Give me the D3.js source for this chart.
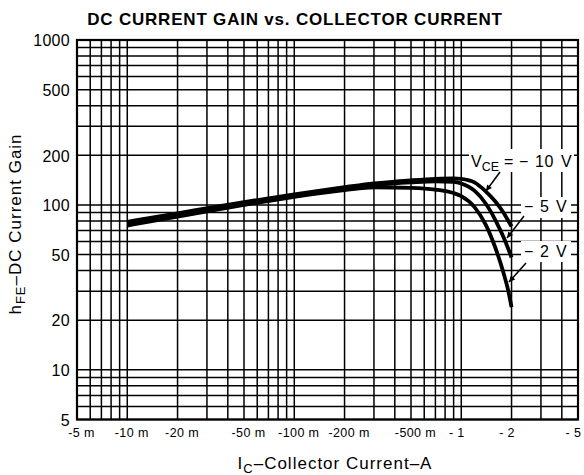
<!DOCTYPE html>
<html>
<head>
<meta charset="utf-8">
<script src="https://cdn.jsdelivr.net/npm/d3@7"></script>
<style>
  html, body { margin: 0; padding: 0; background: #fff; }
  svg { display: block; }
  text { font-family: "Liberation Sans", Arial, Helvetica, sans-serif; fill: #000; }
</style>
</head>
<body>
<svg id="chart" width="584" height="475"></svg>
<script>
// ---- data ----
const currents = [0.01, 0.02, 0.05, 0.1, 0.2, 0.3, 0.5, 0.7, 0.9, 1.0, 1.2, 1.4, 1.6, 1.8, 1.9, 2.0];
const gain10V  = [79, 89, 104, 116, 128, 135, 141, 144, 145, 144, 137, 121, 105, 89, 81, 74];
const gain5V   = [77, 87, 102, 114, 126, 132, 137, 139, 138, 135, 122, 102, 81, 63, 55, 48];
const gain2V   = [75, 85, 100, 112, 123, 128, 127, 124, 118, 113, 97, 76, 55, 38, 31, 24];
const seriesNames = ["-10 V", "-5 V", "-2 V"];
const xTickValues = [0.005, 0.01, 0.02, 0.05, 0.1, 0.2, 0.5, 1, 2, 5];
const xTickLabels = ["-5 m", "-10 m", "-20 m", "-50 m", "-100 m", "-200 m", "-500 m", "- 1", "- 2", "- 5"];
const yTickValues = [5, 10, 20, 50, 100, 200, 500, 1000];
const yTickLabels = ["5", "10", "20", "50", "100", "200", "500", "1000"];
const titleText = "DC CURRENT GAIN vs. COLLECTOR CURRENT";

// ---- layout ----
const L = 77, R = 578, T = 40, B = 419.5;
const svg = d3.select("#chart");
const x = d3.scaleLog().domain([0.005, 5]).range([L, R]);
const y = d3.scaleLog().domain([5, 1000]).range([B, T]);

// title
svg.append("text").attr("x", 295).attr("y", 25).attr("text-anchor", "middle")
  .style("font-size", "17px").style("font-weight", "bold").style("letter-spacing", "0.8px")
  .text(titleText);

// grid
const grid = svg.append("g").attr("stroke", "#000").attr("stroke-width", 1.5);
grid.selectAll("line.v").data(x.ticks()).join("line")
  .attr("x1", d => x(d)).attr("x2", d => x(d)).attr("y1", T).attr("y2", B);
grid.selectAll("line.h").data(y.ticks()).join("line")
  .attr("y1", d => y(d)).attr("y2", d => y(d)).attr("x1", L).attr("x2", R);
svg.append("rect").attr("x", L).attr("y", T).attr("width", R - L).attr("height", B - T)
  .attr("fill", "none").attr("stroke", "#000").attr("stroke-width", 2.2);

// axes (labels only)
const xAxis = d3.axisBottom(x).tickValues(xTickValues).tickSize(0)
  .tickFormat((d, i) => xTickLabels[i]);
const gx = svg.append("g").attr("transform", `translate(0,${B})`).call(xAxis);
gx.select(".domain").remove();
gx.selectAll("text").attr("dy", 0).attr("y", 17.5)
  .attr("dx", (d, i) => xTickLabels[i].endsWith("m") ? 4 : -5)
  .style("font-size", "12.5px").style("letter-spacing", "0.4px")
  .style("font-family", "'Liberation Sans', Arial, sans-serif").attr("fill", "#000");

const yAxis = d3.axisLeft(y).tickValues(yTickValues).tickSize(0)
  .tickFormat((d, i) => yTickLabels[i]);
const gy = svg.append("g").attr("transform", `translate(${L},0)`).call(yAxis);
gy.select(".domain").remove();
gy.selectAll("text").attr("x", -7).attr("dy", "0.36em")
  .style("font-size", "16px").style("letter-spacing", "0.3px")
  .style("font-family", "'Liberation Sans', Arial, sans-serif").attr("fill", "#000");

// axis titles
const xt = svg.append("text").attr("x", 335).attr("y", 469).attr("text-anchor", "middle")
  .style("font-size", "17px").style("letter-spacing", "1px");
xt.append("tspan").text("I");
xt.append("tspan").attr("dy", 4).style("font-size", "13px").text("C");
xt.append("tspan").attr("dy", -4).text("\u2013Collector Current\u2013A");

const yt = svg.append("text").attr("transform", "translate(21,224) rotate(-90)")
  .attr("text-anchor", "middle").style("font-size", "17px").style("letter-spacing", "1px");
yt.append("tspan").text("h");
yt.append("tspan").attr("dy", 4).style("font-size", "13px").text("FE");
yt.append("tspan").attr("dy", -4).text("\u2013DC Current Gain");

// curves
const series = [gain10V, gain5V, gain2V].map((g, k) => ({
  name: seriesNames[k], values: currents.map((c, i) => ({ ic: c, h: g[i] }))
}));
const line = d3.line().x(d => x(d.ic)).y(d => y(d.h)).curve(d3.curveMonotoneX);
svg.append("g").selectAll("path").data(series).join("path")
  .attr("d", d => line(d.values)).attr("fill", "none")
  .attr("stroke", "#000").attr("stroke-width", 3.8).attr("stroke-linecap", "butt");

// annotations
const defs = svg.append("defs");
defs.append("marker").attr("id", "ah").attr("viewBox", "0 0 10 10").attr("refX", 10).attr("refY", 5)
  .attr("markerWidth", 9).attr("markerHeight", 6).attr("markerUnits", "userSpaceOnUse")
  .attr("orient", "auto").append("path").attr("d", "M0,0 L10,5 L0,10 Z").attr("fill", "#000");

const ann = svg.append("g");
[[469, 149, 105, 23], [521, 197, 50, 21], [521, 241, 50, 21]].forEach(r => {
  ann.append("rect").attr("x", r[0]).attr("y", r[1]).attr("width", r[2]).attr("height", r[3]).attr("fill", "#fff");
});
const t10 = ann.append("text").attr("y", 167).style("font-size", "16px");
t10.append("tspan").attr("x", 471).text("V");
t10.append("tspan").attr("dy", 4).style("font-size", "12.5px").text("CE");
t10.append("tspan").attr("x", 504).attr("dy", -4).text("=");
t10.append("tspan").attr("x", 519).text("\u2212");
t10.append("tspan").attr("x", 535).style("letter-spacing", "0.5px").text("10");
t10.append("tspan").attr("x", 561).text("V");

[[212, "5"], [257, "2"]].forEach(([yy, n]) => {
  const t = ann.append("text").attr("y", yy).style("font-size", "16px");
  t.append("tspan").attr("x", 524).text("\u2212");
  t.append("tspan").attr("x", 540).text(n);
  t.append("tspan").attr("x", 556).text("V");
});

[[500, 172, 486, 191], [524, 216, 507, 238], [526, 263, 509, 282]].forEach(a => {
  ann.append("line").attr("x1", a[0]).attr("y1", a[1]).attr("x2", a[2]).attr("y2", a[3])
    .attr("stroke", "#000").attr("stroke-width", 1.5).attr("marker-end", "url(#ah)");
});
</script>
</body>
</html>
